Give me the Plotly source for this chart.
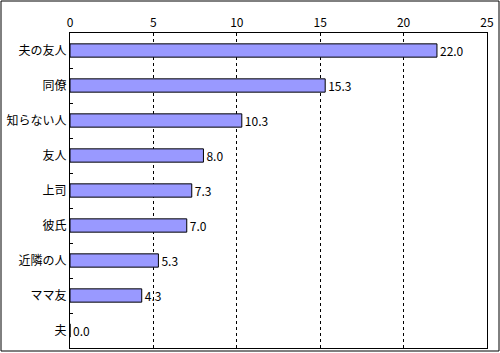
import plotly.graph_objects as go

categories = ["夫の友人", "同僚", "知らない人", "友人", "上司", "彼氏", "近隣の人", "ママ友", "夫"]
values = [22.0, 15.3, 10.3, 8.0, 7.3, 7.0, 5.3, 4.3, 0.0]
x_ticks = [0, 5, 10, 15, 20, 25]

W, H = 500, 353
L, R, T, B = 70, 13, 33, 5
pw, ph = W - L - R, H - T - B

fig = go.Figure(go.Bar(
    y=categories, x=values, orientation="h",
    marker=dict(color="#9999FF", line=dict(color="black", width=1)),
    text=[f"{v:.1f}" for v in values], textposition="outside",
    textfont=dict(size=12, color="black"), cliponaxis=False,
    constraintext="none",
    width=0.38,
))

fig.update_layout(
    width=W, height=H, margin=dict(l=L, r=R, t=T, b=B),
    paper_bgcolor="white", plot_bgcolor="white",
    font=dict(family="Noto Sans CJK JP", size=11, color="black"),
    showlegend=False,
    xaxis=dict(range=[0, 25], side="top", tickvals=x_ticks, showgrid=True,
               gridcolor="black", griddash="3px,3px", gridwidth=1,
               showline=True, linecolor="black", mirror=True, linewidth=1,
               ticks="", zeroline=False, tickfont=dict(size=12)),
    yaxis=dict(autorange="reversed", categoryorder="array", categoryarray=categories,
               showline=True, linecolor="black", mirror=True, linewidth=1,
               ticks="inside", ticklen=3, tickson="boundaries", tickcolor="black",
               showgrid=False, tickfont=dict(size=12)),
    shapes=[dict(type="rect", xref="paper", yref="paper",
                 x0=(1 - L) / pw, x1=(W - 1 - L) / pw,
                 y0=(H - B - (H - 2)) / ph, y1=(H - B - 1) / ph,
                 line=dict(color="black", width=1))],
)
fig.write_html("out.html")
